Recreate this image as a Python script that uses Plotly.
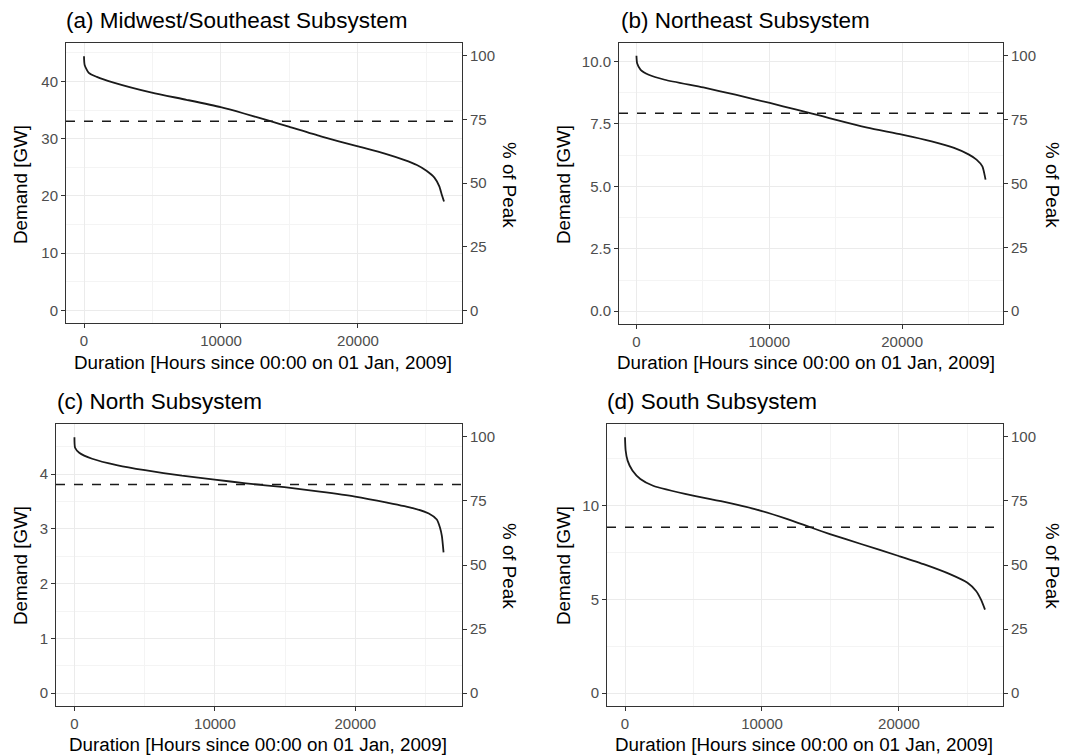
import plotly.graph_objects as go

W, H = 1078, 755

titles = ["(a) Midwest/Southeast Subsystem", "(b) Northeast Subsystem",
          "(c) North Subsystem", "(d) South Subsystem"]

# Duration curves (hours, GW)
hours_a = [0, 47, 350, 935, 2100, 4950, 7480, 9980, 11680, 13550, 14950, 17290,
           19930, 21960, 23360, 24300, 25000, 25580, 25930, 26120, 26280]
gw_a = [44.4, 42.9, 41.5, 40.8, 39.85, 38.05, 36.8, 35.5, 34.4, 33.1, 32.1, 30.4,
        28.7, 27.4, 26.3, 25.4, 24.4, 23.2, 21.7, 20.2, 19.0]

hours_b = [0, 50, 315, 920, 2130, 5030, 7450, 10040, 12050, 13990, 15030, 17380,
           19990, 22220, 23910, 25000, 25600, 26040, 26180, 26280]
gw_b = [10.23, 9.93, 9.67, 9.47, 9.27, 8.96, 8.67, 8.34, 8.07, 7.81, 7.66, 7.35,
        7.07, 6.80, 6.54, 6.28, 6.07, 5.80, 5.53, 5.27]

hours_c = [0, 45, 340, 1260, 3080, 5020, 7650, 9980, 12210, 14950, 17470, 19980,
           22260, 24090, 25230, 25800, 26030, 26160, 26280]
gw_c = [4.67, 4.48, 4.39, 4.28, 4.16, 4.07, 3.97, 3.90, 3.83, 3.76, 3.68, 3.59,
        3.48, 3.38, 3.28, 3.17, 3.02, 2.87, 2.57]

hours_d = [0, 47, 190, 540, 1120, 2050, 4970, 7420, 9990, 11860, 13730, 14960,
           17230, 19980, 21900, 23760, 25000, 25630, 25980, 26280]
gw_d = [13.66, 12.95, 12.41, 11.88, 11.43, 11.07, 10.54, 10.18, 9.72, 9.29, 8.80, 8.49,
        7.96, 7.32, 6.86, 6.34, 5.89, 5.45, 5.00, 4.46]

peaks = [44.5, 10.23, 4.68, 13.68]
dash_levels = [33.05, 7.93, 3.81, 8.86]
x_max = 26280

x_ticks = [0, 10000, 20000]
x_tick_labels = ["0", "10000", "20000"]
y_ticks = [[0, 10, 20, 30, 40], [0, 2.5, 5.0, 7.5, 10.0], [0, 1, 2, 3, 4], [0, 5, 10]]
y_tick_labels = [["0", "10", "20", "30", "40"], ["0.0", "2.5", "5.0", "7.5", "10.0"],
                 ["0", "1", "2", "3", "4"], ["0", "5", "10"]]
y_minor = [5, 1.25, 0.5, 2.5]
pct_ticks = [0, 25, 50, 75, 100]
pct_labels = ["0", "25", "50", "75", "100"]

series = [(hours_a, gw_a), (hours_b, gw_b), (hours_c, gw_c), (hours_d, gw_d)]

# panel frames in pixels: left, right, top, bottom
frames = [(66, 462, 43, 323), (619, 1003, 43, 324),
          (56, 462, 424, 706), (607, 1003, 424, 706)]
title_pos = [(64, 20), (619, 20), (55, 401), (605, 401)]
xtitle_pos = [(263, 362), (806, 362), (258, 744), (804, 744)]
ytitle_pos = [(20, 185), (563, 185), (20, 566), (563, 566)]
rtitle_pos = [(510, 185), (1053, 185), (510, 566), (1053, 566)]

FONT = "Liberation Sans, Arial, sans-serif"
TICKC = "#4d4d4d"
GRID = "#ebebeb"
MINOR = "#f4f4f4"
BORDER = "#333333"
TICKSZ = 15
AXSZ = 18.8
TSZ = 22.5

fig = go.Figure()
layout = {}
annotations = []
shapes = []


def px_x(p):
    return p / W


def px_y(p):
    return 1 - p / H


for i in range(4):
    n = i + 1
    xs, ys = series[i]
    peak = peaks[i]
    xa = "x" if n == 1 else f"x{n}"
    ya = "y" if n == 1 else f"y{n}"
    yr = f"y{n + 4}"
    l, r, t, b = frames[i]
    xpad = 0.05 * x_max
    ypad = 0.05 * peak
    yrange = [-ypad, peak + ypad]
    fig.add_trace(go.Scatter(x=xs, y=ys, mode="lines", xaxis=xa, yaxis=ya,
                             line=dict(color="#1a1a1a", width=1.8, shape="spline", smoothing=0.6),
                             showlegend=False, hoverinfo="skip"))
    fig.add_trace(go.Scatter(x=xs, y=[v / peak * 100 for v in ys], mode="lines",
                             xaxis=xa, yaxis=yr, opacity=0, showlegend=False,
                             hoverinfo="skip", line=dict(width=0)))
    xkey = "xaxis" if n == 1 else f"xaxis{n}"
    ykey = "yaxis" if n == 1 else f"yaxis{n}"
    rkey = f"yaxis{n + 4}"
    layout[xkey] = dict(domain=[px_x(l), px_x(r)], anchor=ya, range=[-xpad, x_max + xpad],
                        tickvals=x_ticks, ticktext=x_tick_labels,
                        showgrid=True, gridcolor=GRID, gridwidth=1,
                        minor=dict(tickvals=[5000, 15000, 25000], showgrid=True,
                                   gridcolor=MINOR, gridwidth=1, ticks=""),
                        zeroline=False, showline=True, mirror=True, linecolor=BORDER,
                        linewidth=1, ticks="outside", ticklen=4, tickcolor=BORDER,
                        tickfont=dict(family=FONT, size=TICKSZ, color=TICKC))
    mv = []
    v = y_minor[i]
    while v < peak + ypad:
        mv.append(v)
        v += 2 * y_minor[i]
    layout[ykey] = dict(domain=[px_y(b), px_y(t)], anchor=xa, range=yrange,
                        tickvals=y_ticks[i], ticktext=y_tick_labels[i],
                        showgrid=True, gridcolor=GRID, gridwidth=1,
                        minor=dict(tickvals=mv, showgrid=True, gridcolor=MINOR,
                                   gridwidth=1, ticks=""),
                        zeroline=False, showline=True, mirror=True, linecolor=BORDER,
                        linewidth=1, ticks="outside", ticklen=4, tickcolor=BORDER,
                        tickfont=dict(family=FONT, size=TICKSZ, color=TICKC))
    layout[rkey] = dict(overlaying=ya, anchor=xa, side="right",
                        range=[yrange[0] / peak * 100, yrange[1] / peak * 100],
                        tickvals=pct_ticks, ticktext=pct_labels, showgrid=False,
                        zeroline=False, showline=False, ticks="outside", ticklen=4,
                        tickcolor=BORDER,
                        tickfont=dict(family=FONT, size=TICKSZ, color=TICKC))
    shapes.append(dict(type="line", xref=f"{xa} domain", yref=ya, x0=0, x1=1,
                       y0=dash_levels[i], y1=dash_levels[i],
                       line=dict(color="#1a1a1a", width=1.5, dash="dash")))
    tx, ty = title_pos[i]
    annotations.append(dict(text=titles[i], xref="paper", yref="paper",
                            x=px_x(tx), y=px_y(ty), xanchor="left", yanchor="middle",
                            showarrow=False, font=dict(family=FONT, size=TSZ, color="black")))
    ax, ay = xtitle_pos[i]
    annotations.append(dict(text="Duration [Hours since 00:00 on 01 Jan, 2009]",
                            xref="paper", yref="paper", x=px_x(ax), y=px_y(ay),
                            xanchor="center", yanchor="middle", showarrow=False,
                            font=dict(family=FONT, size=AXSZ, color="black")))
    ax, ay = ytitle_pos[i]
    annotations.append(dict(text="Demand [GW]", xref="paper", yref="paper",
                            x=px_x(ax), y=px_y(ay), xanchor="center", yanchor="middle",
                            textangle=-90, showarrow=False,
                            font=dict(family=FONT, size=AXSZ, color="black")))
    ax, ay = rtitle_pos[i]
    annotations.append(dict(text="% of Peak", xref="paper", yref="paper",
                            x=px_x(ax), y=px_y(ay), xanchor="center", yanchor="middle",
                            textangle=90, showarrow=False,
                            font=dict(family=FONT, size=AXSZ, color="black")))

fig.update_layout(**layout)
fig.update_layout(width=W, height=H, margin=dict(l=0, r=0, t=0, b=0),
                  plot_bgcolor="white", paper_bgcolor="white",
                  annotations=annotations, shapes=shapes, showlegend=False,
                  font=dict(family=FONT))
fig.write_html("out.html")
